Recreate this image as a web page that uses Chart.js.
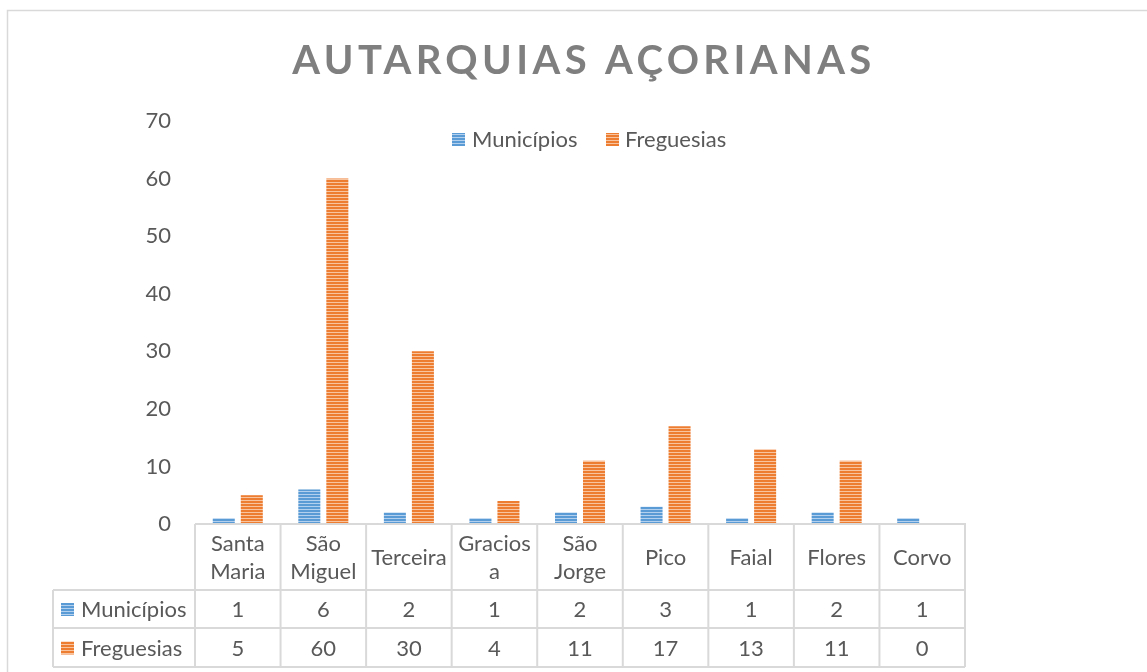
<!DOCTYPE html>
<html>
<head>
<meta charset="utf-8">
<script src="https://cdn.jsdelivr.net/npm/chart.js@4.4.1/dist/chart.umd.min.js"></script>
<style>
  html, body { margin: 0; padding: 0; background: #fff; }
  #wrap { position: relative; width: 1147px; height: 672px; }
</style>
</head>
<body>
<div id="wrap"><canvas id="chart"></canvas></div>
<script>
// Dados do gráfico
const titulo = 'AUTARQUIAS AÇORIANAS';
const ilhas = [['Santa', 'Maria'], ['São', 'Miguel'], 'Terceira', ['Gracios', 'a'], ['São', 'Jorge'], 'Pico', 'Faial', 'Flores', 'Corvo'];
const series = ['Municípios', 'Freguesias'];
const municipios = [1, 6, 2, 1, 2, 3, 1, 2, 1];
const freguesias = [5, 60, 30, 4, 11, 17, 13, 11, 0];
const yTicks = [0, 10, 20, 30, 40, 50, 60, 70];

const FONT = 'Lato, "Open Sans", sans-serif';
const TXT = '#595959';
const LINE = '#d9d9d9';

// Padrão listrado horizontal (como no Excel)
const stripes = (base, light) => {
    const c = document.createElement('canvas');
    c.width = 4; c.height = 3;
    const x = c.getContext('2d');
    x.fillStyle = base; x.fillRect(0, 0, 4, 3);
    x.fillStyle = light; x.fillRect(0, 2, 4, 1);
    return x.createPattern(c, 'repeat');
};
const cores = [
    { base: '#5b9bd5', fill: stripes('#5b9bd5', '#b3d0ee') },
    { base: '#ed7d31', fill: stripes('#ed7d31', '#f8c4a0') }
];
const valores = [municipios, freguesias];

// Título, legenda, borda e tabela de dados
const extras = {
    id: 'extras',
    afterDraw(chart) {
        const { ctx, chartArea: a, scales: { x } } = chart;
        ctx.save();
        // borda exterior
        ctx.strokeStyle = LINE; ctx.lineWidth = 1.5;
        ctx.strokeRect(7.5, 10.5, 1160, 700);

        // título
        ctx.fillStyle = '#7f7f7f';
        ctx.font = 'bold 40px ' + FONT;
        ctx.letterSpacing = '4.4px';
        ctx.textAlign = 'center'; ctx.textBaseline = 'middle';
        ctx.fillText(titulo, 584, 61);
        ctx.letterSpacing = '0px';

        // legenda
        ctx.font = '22px ' + FONT;
        ctx.textAlign = 'left';
        const leg = [[452, 472], [606, 625]];
        series.forEach((s, i) => {
            ctx.fillStyle = cores[i].fill;
            ctx.fillRect(leg[i][0], 133, 13, 13);
            ctx.fillStyle = TXT;
            ctx.fillText(s, leg[i][1], 140);
        });

        // tabela
        const half = (x.getPixelForValue(1) - x.getPixelForValue(0)) / 2;
        const L = 53, R = a.right, top = a.bottom;
        const rows = [590, 628, 667];
        ctx.strokeStyle = LINE; ctx.lineWidth = 2;
        ctx.beginPath();
        ctx.moveTo(a.left, top); ctx.lineTo(R + 1, top);
        rows.forEach(y => { ctx.moveTo(L, y); ctx.lineTo(R, y); });
        ctx.moveTo(L, rows[0]); ctx.lineTo(L, rows[2]);
        ilhas.forEach((_, i) => {
            const xl = x.getPixelForValue(i) - half;
            ctx.moveTo(xl, top); ctx.lineTo(xl, rows[2]);
        });
        ctx.moveTo(R, top); ctx.lineTo(R, rows[2]);
        ctx.stroke();

        ctx.fillStyle = TXT;
        ctx.textAlign = 'center';
        ilhas.forEach((lab, i) => {
            const cx = x.getPixelForValue(i);
            const lines = Array.isArray(lab) ? lab : [lab];
            const mid = (top + rows[0]) / 2;
            lines.forEach((t, k) => ctx.fillText(t, cx, mid + 1 + (k - (lines.length - 1) / 2) * 28));
            valores.forEach((v, j) => ctx.fillText(String(v[i]), cx, (rows[j] + rows[j + 1]) / 2 + 1));
        });
        ctx.textAlign = 'left';
        series.forEach((s, j) => {
            const cy = (rows[j] + rows[j + 1]) / 2;
            ctx.fillStyle = cores[j].fill;
            ctx.fillRect(61, cy - 6, 13, 13);
            ctx.fillStyle = TXT;
            ctx.fillText(s, 81, cy + 1);
        });
        ctx.restore();
    }
};

new Chart(document.getElementById('chart'), {
    type: 'bar',
    data: {
        labels: ilhas,
        datasets: series.map((s, i) => ({
            label: s,
            data: valores[i],
            backgroundColor: cores[i].fill,
            borderWidth: 0,
            categoryPercentage: 0.655,
            barPercentage: 0.786
        }))
    },
    options: {
        responsive: true,
        maintainAspectRatio: false,
        animation: false,
        layout: { padding: { top: 121, right: 182, bottom: 0, left: 0 } },
        plugins: {
            legend: { display: false },
            title: { display: false },
            tooltip: { enabled: false }
        },
        scales: {
            x: {
                grid: { display: false },
                border: { display: false },
                ticks: { display: false },
                afterFit: s => { s.height = 148; }
            },
            y: {
                min: 0,
                max: 70,
                afterFit: s => { s.width = 195; },
                afterBuildTicks: s => { s.ticks = yTicks.map(v => ({ value: v })); },
                grid: { display: false },
                border: { display: false },
                ticks: { color: TXT, font: { family: FONT, size: 22 }, padding: 16 }
            }
        }
    },
    plugins: [extras]
});
</script>
</body>
</html>
